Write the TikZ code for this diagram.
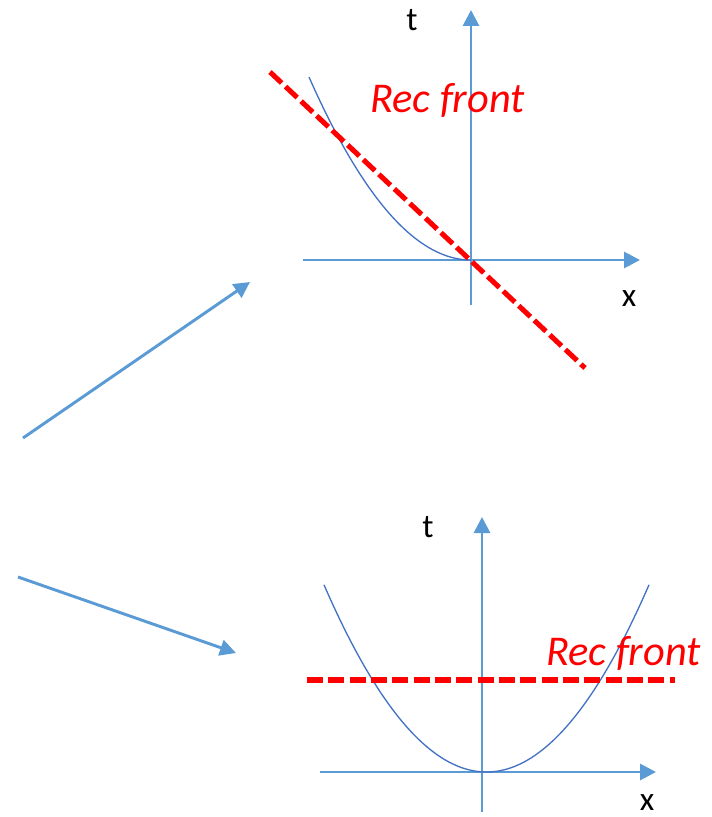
\documentclass[tikz,border=0pt]{standalone}
\usepackage{fontspec}
\setmainfont{Carlito}
\usetikzlibrary{arrows.meta}
\definecolor{axisblue}{HTML}{5B9BD5}
\definecolor{curveblue}{HTML}{4472C4}
\definecolor{recred}{HTML}{FF0000}
\tikzset{
  axis/.style={draw=axisblue, line width=2.2pt, -{Triangle[length=12pt,width=12pt]}},
  flow/.style={draw=axisblue, line width=2.2pt, -{Triangle[length=12pt,width=12pt]}},
  curve/.style={draw=curveblue, line width=1pt},
  front/.style={draw=recred, line width=3.8pt, dash pattern=on 12pt off 4pt},
  lbl/.style={font=\fontsize{25}{29}\selectfont, text=black, inner sep=0pt},
  reclbl/.style={font=\fontsize{31.8}{36}\selectfont\itshape, text=recred, inner sep=0pt, anchor=base west}
}
\begin{document}
\begin{tikzpicture}[x=0.75pt,y=-0.75pt]
\useasboundingbox (0,0) rectangle (712,817);
% ---- top diagram ----
\coordinate (tA0) at (471,305);
\coordinate (tA1) at (471,10);
\coordinate (xA0) at (303,260);
\coordinate (xA1) at (640,260);
\draw[axis] (tA0) -- (tA1);
\draw[axis] (xA0) -- (xA1);
\draw[curve] plot[domain=309:471, samples=60, smooth] (\x, {260-(0.0835*(\x-471))^2});
\coordinate (f0) at (270,72);
\coordinate (f1) at (585,368);
\draw[front] (f0) -- (f1);
\node[lbl] (tlab) at (412,20) {t};
\node[lbl] (xlab) at (629,299) {x};
\node[reclbl] (rec1) at (370,113) {Rec front};
% ---- bottom diagram ----
\coordinate (tB0) at (482,812);
\coordinate (tB1) at (482,517);
\coordinate (xB0) at (320,772);
\coordinate (xB1) at (656,772);
\draw[axis] (tB0) -- (tB1);
\draw[axis] (xB0) -- (xB1);
\draw[curve] plot[domain=324:649, samples=100, smooth] (\x, {772-(0.0842*(\x-486.5))^2});
\coordinate (g0) at (307,680);
\coordinate (g1) at (675,680);
\draw[front] (g0) -- (g1);
\node[lbl] (tlab2) at (428,527) {t};
\node[lbl] (xlab2) at (647,803) {x};
\node[reclbl] (rec2) at (546,665) {Rec front};
% ---- left arrows ----
\coordinate (a0) at (23,438);
\coordinate (a1) at (250,282);
\coordinate (b0) at (18,577);
\coordinate (b1) at (236,653);
\draw[flow] (a0) -- (a1);
\draw[flow] (b0) -- (b1);
\end{tikzpicture}
\end{document}
